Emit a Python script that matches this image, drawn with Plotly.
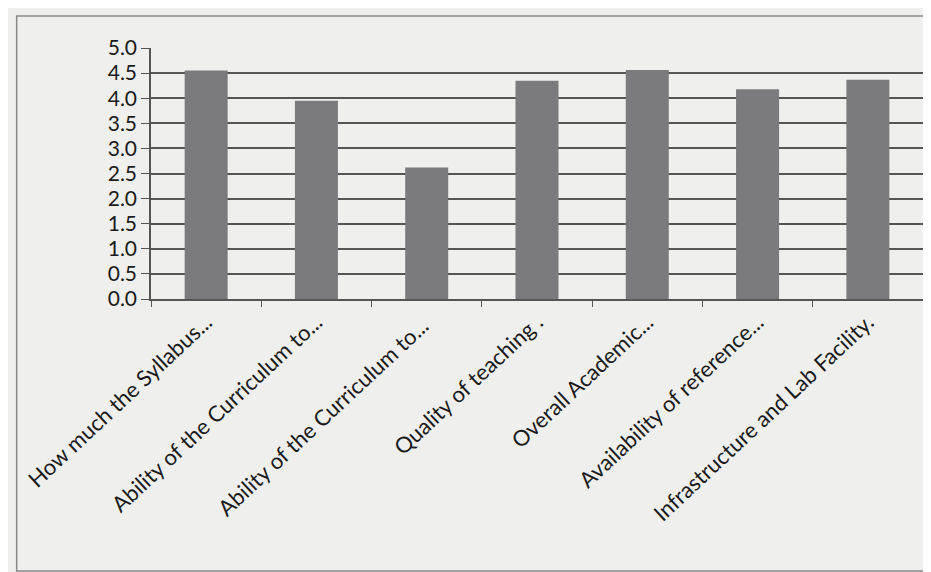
import plotly.graph_objects as go

categories = [
    "How much the Syllabus...",
    "Ability of the Curriculum to...",
    "Ability of the Curriculum to... ",
    "Quality of teaching .",
    "Overall Academic...",
    "Availability of reference...",
    "Infrastructure and Lab Facility.",
]
scores = [4.55, 3.95, 2.62, 4.35, 4.56, 4.18, 4.37]
y_ticks = [0, 0.5, 1.0, 1.5, 2.0, 2.5, 3.0, 3.5, 4.0, 4.5, 5.0]

fig = go.Figure()
fig.add_trace(go.Bar(x=categories, y=scores, width=0.39,
                     marker=dict(color="#7b7b7d", line=dict(width=0))))

# chart frame around everything
fig.add_shape(type="rect", xref="paper", yref="paper",
              x0=-0.174, x1=1.2, y0=-1.084, y1=1.127,
              line=dict(color="#8a8a8a", width=1.5), layer="below")

fig.update_layout(
    width=931, height=572,
    margin=dict(l=143, r=16, t=40, b=281),
    paper_bgcolor="#efefed", plot_bgcolor="#efefed",
    font=dict(family="Lato, 'Open Sans', sans-serif", color="#1a1a1a"),
    showlegend=False,
)
fig.update_xaxes(
    tickangle=-43, tickfont=dict(size=22), tickson="boundaries",
    ticks="outside", ticklen=6, tickcolor="#555",
    showline=True, linecolor="#555", linewidth=1.5,
    showgrid=False,
)
fig.update_yaxes(
    range=[0, 5], tickvals=y_ticks, tickformat=".1f",
    tickfont=dict(size=21), ticks="outside", ticklen=8, tickcolor="#555",
    showline=True, linecolor="#555", linewidth=1.5,
    showgrid=True, gridcolor="#555", gridwidth=1.5, zeroline=False,
)

fig.write_html("out.html")
